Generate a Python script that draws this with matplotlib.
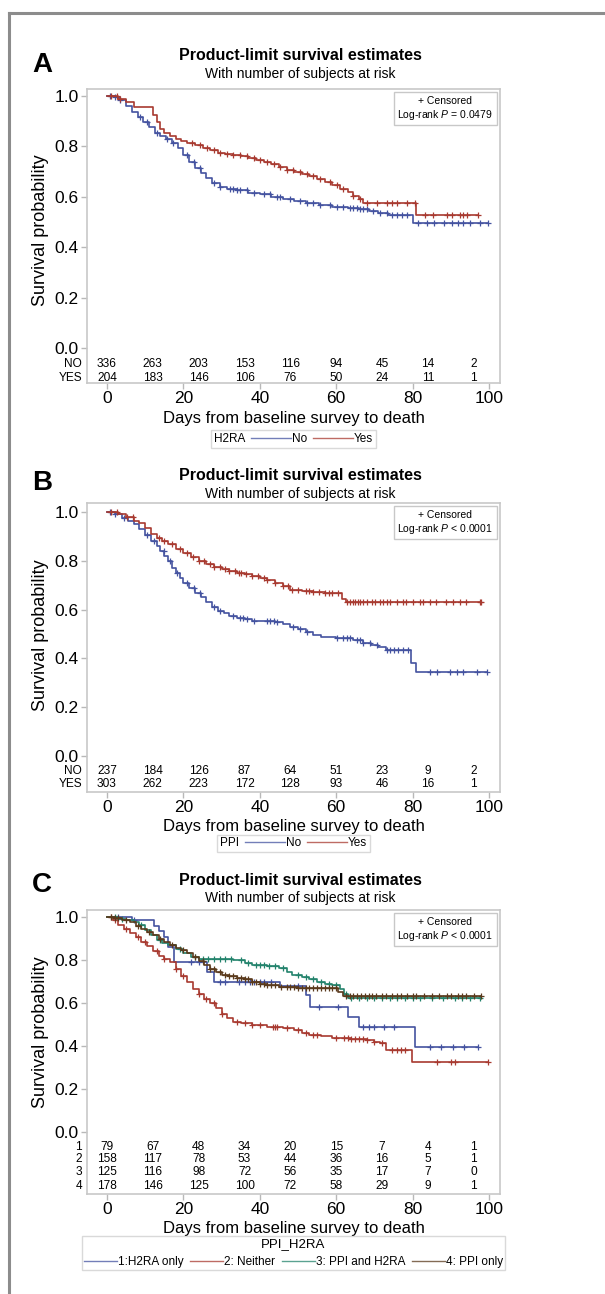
import numpy as np
import matplotlib.pyplot as plt
from matplotlib.lines import Line2D
from matplotlib.offsetbox import AnchoredText

plt.rcParams['font.family'] = ['Liberation Sans', 'DejaVu Sans']
plt.rcParams['mathtext.fontset'] = 'custom'
plt.rcParams['mathtext.rm'] = 'Liberation Sans'
plt.rcParams['mathtext.it'] = 'Liberation Sans:italic'

W, H = 605, 1294
BLUE, RED, GREEN, BROWN = '#4453a0', '#a83a30', '#23836c', '#5a3a1c'

# ---- panel A: H2RA ----
a_no_t = [0, 2, 3.5, 5, 6.5, 8, 9.5, 11, 12.5, 14, 15.5, 17, 18.5, 20, 21.5, 23, 24.5, 26,
          27.5, 29.5, 31.5, 34, 37, 40, 43, 46, 49, 52, 55.5, 59, 63, 66, 68.5, 71, 73.5, 80]
a_no_s = [1.0, .995, .985, .96, .935, .915, .895, .875, .855, .84, .83, .815, .795, .765, .74,
          .715, .695, .675, .655, .64, .632, .625, .617, .61, .6, .59, .582, .575, .568, .56,
          .555, .55, .545, .535, .527, .497]
a_no_cens = [0.9, 2.2, 3.5, 8.7, 10.5, 13.1, 15.7, 17.4, 20.9, 22.7, 24.4, 27.9, 29.6, 32.3,
             33.1, 34, 34.9, 36.6, 38.4, 41, 42.7, 44.5, 45.3, 48, 50.6, 52.3, 54, 55.8, 58.4,
             60.1, 61.9, 63.6, 64.5, 65.4, 66.2, 67.1, 68, 69.7, 71.5, 73.2, 74.5, 75.8, 77.1,
             78.5, 81.5, 83.7, 85.5, 88.1, 90.3, 92, 93.3, 95, 97.6, 99.8]
a_yes_t = [0, 3, 5, 7, 12, 13, 14, 15, 16.5, 18, 19.5, 21, 23, 25, 27, 29, 31, 33, 35, 37, 39,
           41, 43, 45, 47, 49, 51, 53, 55, 57, 59, 61, 63, 64.5, 66, 67, 81]
a_yes_s = [1.0, .99, .975, .957, .925, .895, .87, .855, .84, .83, .822, .815, .805, .795, .785,
           .775, .77, .765, .76, .752, .745, .737, .73, .72, .705, .698, .69, .682, .67, .66,
           .645, .632, .618, .605, .59, .575, .528]
a_yes_cens = [1, 2.5, 3.5, 22.2, 24.4, 26.2, 27.9, 29.6, 31.4, 33.1, 34.9, 36.6, 38.4, 40.1,
              41.8, 43.6, 45.3, 47.1, 48.8, 50.5, 52.3, 54, 55.8, 58.4, 60.1, 61.9, 64.5, 66.2,
              68, 70.6, 73.2, 74.5, 75.8, 78.5, 80.6, 83.3, 85.4, 88.9, 90.2, 92.4, 93.3, 94.2,
              97.2]
a_risk = {'NO': [336, 263, 203, 153, 116, 94, 45, 14, 2],
          'YES': [204, 183, 146, 106, 76, 50, 24, 11, 1]}

# ---- panel B: PPI ----
b_no_t = [0, 2, 4, 5.5, 7, 8.5, 10, 11.5, 13, 14, 15, 16, 17, 18, 19, 20, 21.5, 23, 24.5, 26,
          27.5, 29, 30.5, 32, 34, 36, 38, 40, 44, 46, 48, 50, 52, 54, 56, 60, 64.5, 67, 69, 71,
          73, 79.5, 81]
b_no_s = [1.0, .99, .975, .965, .95, .93, .905, .88, .86, .84, .82, .8, .77, .75, .73, .71,
          .69, .67, .65, .63, .61, .595, .585, .575, .567, .56, .555, .553, .55, .54, .53, .52,
          .508, .497, .487, .485, .475, .465, .455, .445, .435, .38, .345]
b_no_cens = [0.9, 2.2, 4.4, 10.5, 12.2, 14.8, 16.6, 18.3, 20.9, 22.7, 24.4, 27.9, 29.6, 33.1,
             34.9, 35.7, 36.6, 38.4, 41.8, 42.7, 43.6, 44.5, 48.8, 50.5, 52.3, 60.2, 61.9,
             62.8, 63.6, 65.4, 66.3, 67.1, 68.9, 70.6, 73.2, 74.1, 75, 76.3, 77.6, 78.9, 84.6,
             86.3, 89.8, 91.5, 93.3, 96.8, 99.4]
b_yes_t = [0, 3, 5, 7, 8.5, 10, 11.5, 13, 14.5, 16, 18, 20, 22, 24, 26, 28, 30, 32, 34, 36,
           38, 40, 42, 44, 46, 48, 51, 54, 57, 60, 61.5, 62.5]
b_yes_s = [1.0, .99, .98, .965, .955, .935, .91, .895, .88, .87, .85, .83, .815, .8, .785,
           .775, .768, .76, .752, .745, .737, .73, .72, .708, .695, .682, .675, .672, .67,
           .667, .645, .631]
b_yes_cens = [1, 2.6, 5.2, 6.9, 13.5, 15, 17, 19, 21, 22.5, 24, 25.5, 27, 28, 29.5, 31, 32,
              33.5, 34.5, 35, 36.5, 38, 39.5, 41, 42, 44, 46, 47.5, 48.5, 50, 52, 53, 54, 55.5,
              57, 58, 59, 60.5, 62.8, 63.6, 64.5, 65, 65.8, 66.2, 67.1, 68, 69.3, 70.1, 71.5,
              72.3, 73.2, 74, 75.8, 77.5, 78.4, 80.1, 81.9, 82.7, 84.5, 86.2, 88.8, 90.6, 92.3,
              94, 97.6, 98]
b_risk = {'NO': [237, 184, 126, 87, 64, 51, 23, 9, 2],
          'YES': [303, 262, 223, 172, 128, 93, 46, 16, 1]}

# ---- panel C: PPI_H2RA ----
c1_t = [0, 6.5, 12.2, 13.5, 14.8, 16, 17.5, 26.2, 27.9, 45.3, 52, 53.2, 63.2, 65.9, 80.6]
c1_s = [1.0, .987, .96, .935, .908, .86, .792, .744, .698, .677, .635, .58, .535, .49, .395]
c1_cens = [3, 7, 22, 24, 29.5, 31, 34.5, 36, 37.5, 38.5, 40, 41, 43, 50, 55.5, 60.5, 67, 68.5,
           70, 72.5, 75, 84.5, 87.5, 90.5, 93.5, 97.2]
c2_t = [0, 1.5, 3, 4.5, 6, 7.5, 9, 10.5, 12, 13.5, 15, 16.5, 18, 19.5, 21, 22.5, 24, 25.5, 27,
        28.5, 30, 31.5, 33, 35, 38, 42, 46, 49, 51, 53, 56, 59, 64, 68, 70, 71.5, 73, 79.8]
c2_s = [1.0, .985, .965, .945, .925, .905, .885, .865, .84, .82, .805, .79, .76, .725, .7,
        .665, .64, .62, .6, .575, .55, .53, .512, .505, .498, .49, .482, .474, .462, .451,
        .445, .437, .433, .428, .42, .414, .381, .326]
c2_cens = [1, 2, 5, 8, 10, 13, 15, 18, 20, 24, 26, 28, 30, 34, 36, 38, 40, 43.5, 44, 44.5, 47,
           50, 52, 54, 55, 60, 62, 63, 64, 65, 66, 67, 68, 70, 72, 74.5, 76, 77, 78, 86.5, 90,
           91, 99.8]
c3_t = [0, 3, 5, 7, 8.5, 10, 11.5, 13, 14.5, 16, 18, 20, 22, 24, 33, 36, 38, 42, 45, 47, 48.5,
        51, 53, 55, 57, 59, 61, 62, 63]
c3_s = [1.0, .99, .985, .975, .963, .94, .915, .893, .88, .868, .85, .833, .815, .805, .8,
        .787, .777, .77, .763, .745, .73, .72, .71, .698, .69, .684, .665, .64, .622]
c3_cens = [2, 4, 9, 14, 19, 23, 25, 26.5, 28, 29.5, 31, 32.5, 35, 37, 39, 40, 41, 42.5, 44, 46,
           50, 52, 54, 56, 58, 60, 62.5, 64, 66, 68, 70, 72, 74, 76, 78, 80, 82, 85, 88, 91, 93,
           95, 97.6]
c4_t = [0, 2, 4, 6, 7.5, 9, 10.5, 12, 13.5, 15, 16.5, 18, 19.5, 21, 22.5, 24, 25.5, 27, 28.5,
        30, 32, 34, 36, 38, 40, 42, 45, 50, 55, 59, 60.5, 61.8]
c4_s = [1.0, .995, .985, .975, .96, .945, .93, .915, .9, .885, .87, .855, .845, .832, .815,
        .795, .775, .76, .745, .73, .725, .718, .71, .7, .69, .684, .675, .672, .67, .668, .65,
        .634]
c4_cens = [1, 2, 3, 5, 8, 11, 14, 17, 20, 23, 25, 27, 28, 29.5, 31, 32, 33, 34, 35, 36, 37,
           38, 39, 40, 41, 42, 43, 44, 45.5, 47, 48, 49, 50, 51, 52, 53, 54, 55, 56, 57, 58,
           59, 60, 62.5, 63.5, 64.5, 65.5, 66.5, 67.5, 68.5, 69.5, 70.5, 72, 73, 74.5, 76, 77,
           78.5, 80, 81, 83, 85, 87, 89, 90, 92, 93, 94, 96, 98]
c_risk = {'1': [79, 67, 48, 34, 20, 15, 7, 4, 1],
          '2': [158, 117, 78, 53, 44, 36, 16, 5, 1],
          '3': [125, 116, 98, 72, 56, 35, 17, 7, 0],
          '4': [178, 146, 125, 100, 72, 58, 29, 9, 1]}

risk_times = [0, 12, 24, 36, 48, 60, 72, 84, 96]


def fx(px):
    return px / W


def fy(py):
    return 1 - py / H


def km_curve(ax, t, s, cens, color):
    t = np.asarray(t, float)
    s = np.asarray(s, float)
    cens = np.asarray(cens, float)
    t_end = max(t[-1], cens.max())
    ax.step(np.append(t, t_end), np.append(s, s[-1]), where='post', color=color, lw=1.2)
    idx = np.searchsorted(t, cens, side='right') - 1
    ax.plot(cens, s[idx], ls='none', marker='+', ms=5, mew=0.9, color=color)


def panel(top, y1, y0, bottom, row_px, curves, risk, ptext, legend_title,
          legend_labels, legend_y, wide_legend=False, ylab_y=0.5):
    unit = y0 - y1
    ax = fig.add_axes([fx(87), fy(bottom), fx(500) - fx(87), (bottom - top) / H])
    ax.set_xlim(-20 / 3.82, 100 + 11 / 3.82)
    ax.set_ylim(-(bottom - y0) / unit, 1 + (y1 - top) / unit)

    for (t, s, c, col) in curves:
        km_curve(ax, t, s, c, col)

    for (label, counts), rp in zip(risk.items(), row_px):
        ry = -(rp - y0) / unit
        for tp, n in zip(risk_times, counts):
            ax.text(tp, ry, str(n), ha='center', va='center', fontsize=8.6)
        ax.text(-0.012, ry, label, ha='right', va='center', fontsize=8.6,
                transform=ax.get_yaxis_transform())

    ax.set_xticks(range(0, 101, 20))
    ax.set_yticks(np.arange(0, 1.01, 0.2))
    ax.set_yticklabels(['%.1f' % v for v in np.arange(0, 1.01, 0.2)])
    ax.tick_params(color='#b8b8b8', length=4, width=1, labelsize=12.5, pad=2)
    for sp in ax.spines.values():
        sp.set_color('#c8c8c8')
        sp.set_linewidth(1.2)

    ax.set_xlabel('Days from baseline survey to death', fontsize=12, labelpad=3)
    ax.set_ylabel('Survival probability', fontsize=13)
    ax.yaxis.set_label_coords(-0.092, ylab_y)

    at = AnchoredText('+ Censored\nLog-rank $\\it{P}$ ' + ptext, loc='upper right',
                      borderpad=0.3, pad=0.35,
                      prop=dict(size=7.5, multialignment='center'))
    at.patch.set_edgecolor('#c8c8c8')
    at.patch.set_linewidth(1)
    ax.add_artist(at)

    handles = [Line2D([], [], color=c[3], lw=1, alpha=0.75) for c in curves]
    if wide_legend:
        leg = fig.legend(handles, legend_labels, title=legend_title, ncol=4, loc='center',
                         bbox_to_anchor=(fx(293.5), fy(legend_y)), fontsize=8.5,
                         title_fontsize=9.5, handlelength=2.8, handletextpad=0.05,
                         columnspacing=0.6, fancybox=False, edgecolor='#d0d0d0',
                         borderpad=0.2, borderaxespad=0)
    else:
        leg = fig.legend(handles, legend_labels, title=legend_title, ncol=2, loc='center',
                         bbox_to_anchor=(fx(293.5), fy(legend_y)), fontsize=8.5,
                         title_fontsize=8.5, handlelength=3.4, handletextpad=0.05,
                         columnspacing=0.5, fancybox=False, edgecolor='#d0d0d0',
                         borderpad=0.25, borderaxespad=0)
        # put the legend title on the left of the entries
        box = leg.get_children()[0]
        title = box.get_children()[0]
        hpack = box.get_children()[1]
        box._children = [hpack]
        hpack._children = [title] + hpack.get_children()
    leg.get_frame().set_linewidth(1)
    return ax


fig = plt.figure(figsize=(W / 100, H / 100), dpi=100)

# frame around the figure
fig.add_artist(Line2D([fx(9), fx(9)], [0, fy(13)], color='#8c8c8c', lw=2.2))
fig.add_artist(Line2D([fx(9), 1], [fy(13), fy(13)], color='#8c8c8c', lw=2.2))

for letter, ybase, tbase, sbase in [('A', 72, 60, 78), ('B', 490, 480, 498), ('C', 892, 885, 902)]:
    fig.text(fx(32), fy(ybase), letter, fontsize=20, weight='bold', ha='left', va='baseline')
    fig.text(fx(300), fy(tbase), 'Product-limit survival estimates', fontsize=11.5,
             weight='bold', ha='center', va='baseline')
    fig.text(fx(300), fy(sbase), 'With number of subjects at risk', fontsize=10,
             ha='center', va='baseline')

panel(89, 96, 348, 383, [364, 378],
      [(a_no_t, a_no_s, a_no_cens, BLUE), (a_yes_t, a_yes_s, a_yes_cens, RED)],
      a_risk, '= 0.0479', 'H2RA', ['No', 'Yes'], 439, ylab_y=0.52)
panel(503, 512, 756, 792, [771, 784],
      [(b_no_t, b_no_s, b_no_cens, BLUE), (b_yes_t, b_yes_s, b_yes_cens, RED)],
      b_risk, '< 0.0001', 'PPI', ['No', 'Yes'], 843.5, ylab_y=0.543)
panel(910, 917, 1132, 1194, [1147, 1159, 1172, 1186],
      [(c1_t, c1_s, c1_cens, BLUE), (c2_t, c2_s, c2_cens, RED),
       (c3_t, c3_s, c3_cens, GREEN), (c4_t, c4_s, c4_cens, BROWN)],
      c_risk, '< 0.0001', 'PPI_H2RA',
      ['1:H2RA only', '2: Neither', '3: PPI and H2RA', '4: PPI only'], 1253,
      wide_legend=True, ylab_y=0.57)

fig.savefig('out.png', dpi=100, facecolor='white')
